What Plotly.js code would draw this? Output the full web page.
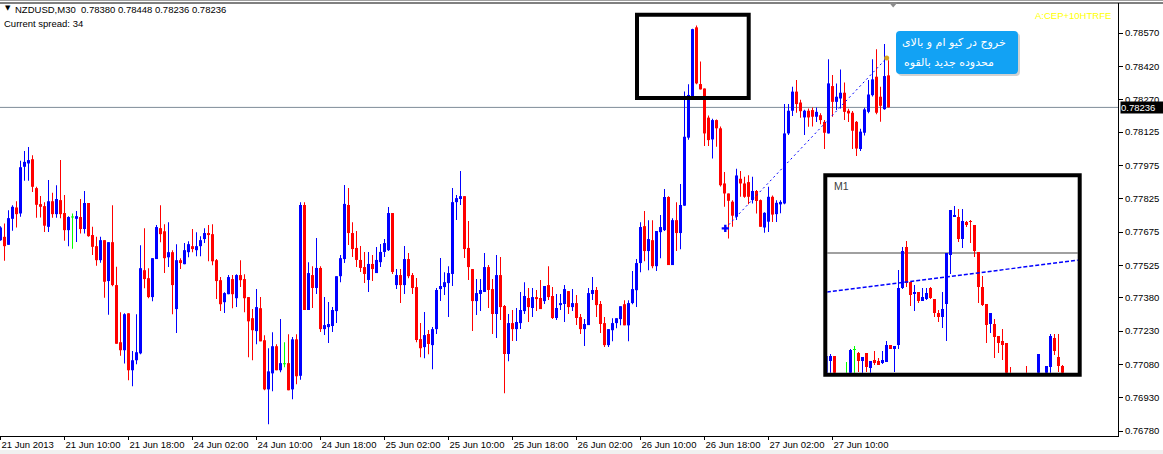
<!DOCTYPE html>
<html><head><meta charset="utf-8">
<script src="https://cdn.plot.ly/plotly-3.0.1.min.js"></script>
<style>html,body{margin:0;padding:0;background:#fff;overflow:hidden}</style>
</head><body><div id="chart" style="width:1163px;height:454px"></div>
<script>
// ---------- data (NZDUSD M30) ----------
const symbolName = "NZDUSD,M30";
const spreadLabel = "Current spread: 34";
const openP = [0.77639,0.77654,0.77618,0.77735,0.77786,0.77759,0.77969,0.77984,0.78003,0.77873,0.77801,0.77792,0.77699,0.77814,0.77756,0.77819,0.77761,0.77684,0.77741,0.77735,
0.77743,0.77689,0.77806,0.77662,0.77612,0.77549,0.77639,0.77455,0.77630,0.77437,0.77180,0.77144,0.77310,0.77054,0.77099,0.77130,0.77504,0.77468,0.77383,0.77554,
0.77693,0.77679,0.77562,0.77585,0.77329,0.77549,0.77531,0.77585,0.77612,0.77594,0.77612,0.77644,0.77671,0.77666,0.77549,0.77459,0.77360,0.77396,0.77464,0.77378,
0.77482,0.77464,0.77383,0.77288,0.77230,0.77333,0.77189,0.76968,0.77040,0.77162,0.77054,0.77081,0.77086,0.76968,0.77193,0.77029,0.77797,0.77325,0.77482,0.77424,
0.77514,0.77239,0.77248,0.77253,0.77320,0.77477,0.77554,0.77797,0.77671,0.77604,0.77550,0.77518,0.77460,0.77532,0.77491,0.77540,0.77586,0.77594,0.77761,0.77437,
0.77482,0.77437,0.77554,0.77482,0.77428,0.77194,0.77158,0.77217,0.77167,0.77239,0.77419,0.77428,0.77446,0.77487,0.77810,0.77824,0.77837,0.77604,0.77509,0.77365,
0.77397,0.77406,0.77518,0.77419,0.77307,0.77482,0.77343,0.77127,0.77266,0.77239,0.77266,0.77320,0.77379,0.77334,0.77383,0.77379,0.77365,0.77437,0.77388,0.77289,
0.77347,0.77352,0.77410,0.77338,0.77356,0.77293,0.77239,0.77257,0.77397,0.77415,0.77352,0.77266,0.77167,0.77234,0.77266,0.77284,0.77351,0.77256,0.77356,0.77414,
0.77536,0.77702,0.77590,0.77639,0.77522,0.77675,0.77684,0.77833,0.77527,0.77729,0.77671,0.77794,0.78100,0.78280,0.78596,0.78341,0.78321,0.78190,0.78092,0.78179,
0.78142,0.77894,0.77849,0.77812,0.77744,0.77915,0.77894,0.77900,0.77819,0.77860,0.77819,0.77696,0.77722,0.77834,0.77756,0.77800,0.77804,0.78119,0.78221,0.78307,
0.78258,0.78191,0.78221,0.78224,0.78194,0.78201,0.78171,0.78119,0.78332,0.78261,0.78276,0.78302,0.78221,0.78212,0.78171,0.78049,0.78122,0.78216,0.78291,0.78374,
0.78284,0.78228,0.78380];
const highP = [0.77702,0.77714,0.77774,0.77796,0.77814,0.77996,0.78040,0.78058,0.78021,0.77879,0.77838,0.77810,0.77909,0.77852,0.77886,0.77999,0.77842,0.77747,0.77759,0.77770,
0.77824,0.77860,0.77806,0.77699,0.77654,0.77654,0.77639,0.77630,0.77796,0.77519,0.77315,0.77310,0.77310,0.77140,0.77306,0.77616,0.77693,0.77513,0.77558,0.77707,
0.77796,0.77711,0.77720,0.77594,0.77621,0.77558,0.77626,0.77634,0.77689,0.77675,0.77657,0.77693,0.77707,0.77711,0.77554,0.77473,0.77405,0.77482,0.77482,0.77486,
0.77549,0.77486,0.77383,0.77329,0.77419,0.77383,0.77211,0.77153,0.77225,0.77171,0.77284,0.77180,0.77216,0.77203,0.77216,0.77810,0.77810,0.77540,0.77522,0.77649,
0.77522,0.77383,0.77361,0.77338,0.77477,0.77572,0.77887,0.77874,0.77720,0.77680,0.77613,0.77586,0.77586,0.77572,0.77608,0.77622,0.77644,0.77788,0.77761,0.77509,
0.77509,0.77613,0.77581,0.77491,0.77469,0.77266,0.77316,0.77235,0.77248,0.77424,0.77559,0.77495,0.77522,0.77874,0.77842,0.77950,0.77837,0.77725,0.77509,0.77464,
0.77464,0.77581,0.77527,0.77464,0.77572,0.77563,0.77347,0.77307,0.77325,0.77334,0.77406,0.77450,0.77424,0.77424,0.77415,0.77460,0.77433,0.77522,0.77428,0.77397,
0.77397,0.77437,0.77410,0.77419,0.77392,0.77307,0.77284,0.77424,0.77473,0.77428,0.77365,0.77293,0.77239,0.77288,0.77288,0.77342,0.77369,0.77369,0.77500,0.77554,
0.77720,0.77770,0.77729,0.77729,0.77680,0.77752,0.77869,0.77837,0.77738,0.77810,0.77891,0.78307,0.78340,0.78590,0.78604,0.78442,0.78321,0.78200,0.78185,0.78182,
0.78150,0.77946,0.77849,0.77819,0.77960,0.77950,0.77924,0.77931,0.77924,0.77865,0.77822,0.77765,0.77879,0.77840,0.77819,0.77819,0.78251,0.78251,0.78329,0.78359,
0.78270,0.78225,0.78231,0.78236,0.78236,0.78210,0.78179,0.78452,0.78382,0.78344,0.78407,0.78348,0.78230,0.78220,0.78175,0.78140,0.78235,0.78359,0.78452,0.78497,
0.78329,0.78521,0.78448];
const lowP = [0.77636,0.77546,0.77618,0.77681,0.77696,0.77744,0.77906,0.77906,0.77856,0.77740,0.77741,0.77676,0.77676,0.77740,0.77740,0.77737,0.77636,0.77612,0.77600,0.77631,
0.77669,0.77669,0.77654,0.77572,0.77524,0.77537,0.77380,0.77303,0.77432,0.77173,0.77119,0.77084,0.77009,0.76982,0.77081,0.77126,0.77423,0.77378,0.77364,0.77554,
0.77630,0.77491,0.77518,0.77306,0.77221,0.77509,0.77531,0.77562,0.77585,0.77567,0.77567,0.77626,0.77544,0.77526,0.77374,0.77320,0.77311,0.77396,0.77333,0.77338,
0.77428,0.77315,0.77112,0.77099,0.77171,0.77184,0.76964,0.76811,0.76959,0.77054,0.77045,0.77068,0.76964,0.76924,0.76991,0.77011,0.77325,0.77325,0.77334,0.77397,
0.77226,0.77212,0.77176,0.77226,0.77266,0.77450,0.77536,0.77617,0.77563,0.77518,0.77496,0.77446,0.77406,0.77455,0.77491,0.77518,0.77563,0.77590,0.77487,0.77419,
0.77356,0.77397,0.77468,0.77397,0.77180,0.77113,0.77108,0.77126,0.77059,0.77217,0.77365,0.77392,0.77293,0.77433,0.77730,0.77797,0.77559,0.77460,0.77230,0.77302,
0.77320,0.77406,0.77334,0.77217,0.77199,0.77280,0.76951,0.77095,0.77185,0.77185,0.77239,0.77307,0.77271,0.77293,0.77320,0.77329,0.77352,0.77370,0.77284,0.77280,
0.77325,0.77271,0.77307,0.77320,0.77257,0.77217,0.77163,0.77257,0.77370,0.77293,0.77221,0.77158,0.77158,0.77184,0.77243,0.77256,0.77256,0.77184,0.77351,0.77338,
0.77495,0.77544,0.77504,0.77513,0.77500,0.77558,0.77680,0.77527,0.77527,0.77590,0.77598,0.77794,0.78090,0.78270,0.78340,0.78317,0.78062,0.78062,0.78006,0.78059,
0.77880,0.77789,0.77646,0.77699,0.77730,0.77834,0.77830,0.77800,0.77804,0.77759,0.77699,0.77672,0.77676,0.77721,0.77721,0.77760,0.77800,0.78112,0.78197,0.78212,
0.78190,0.78112,0.78149,0.78150,0.78170,0.78160,0.78049,0.78119,0.78194,0.78224,0.78231,0.78179,0.78170,0.78049,0.78017,0.78040,0.78110,0.78210,0.78285,0.78205,
0.78171,0.78225,0.78236];
const closeP = [0.77696,0.77612,0.77738,0.77789,0.77756,0.77967,0.77991,0.77999,0.77879,0.77798,0.77789,0.77704,0.77814,0.77756,0.77824,0.77756,0.77684,0.77743,0.77741,0.77747,
0.77689,0.77806,0.77657,0.77609,0.77549,0.77639,0.77452,0.77630,0.77437,0.77173,0.77144,0.77306,0.77054,0.77099,0.77135,0.77513,0.77464,0.77383,0.77558,0.77698,
0.77666,0.77558,0.77585,0.77437,0.77549,0.77536,0.77594,0.77621,0.77599,0.77612,0.77639,0.77671,0.77662,0.77544,0.77455,0.77351,0.77401,0.77473,0.77396,0.77482,
0.77459,0.77378,0.77274,0.77234,0.77338,0.77184,0.76968,0.77049,0.77162,0.77054,0.77086,0.77081,0.76964,0.77193,0.77027,0.77797,0.77325,0.77491,0.77424,0.77514,
0.77239,0.77257,0.77262,0.77325,0.77477,0.77558,0.77802,0.77671,0.77599,0.77550,0.77514,0.77487,0.77532,0.77509,0.77550,0.77586,0.77626,0.77761,0.77496,0.77482,
0.77437,0.77554,0.77477,0.77424,0.77190,0.77153,0.77212,0.77172,0.77239,0.77415,0.77433,0.77450,0.77491,0.77810,0.77828,0.77837,0.77599,0.77518,0.77365,0.77401,
0.77415,0.77518,0.77415,0.77307,0.77482,0.77338,0.77127,0.77266,0.77239,0.77271,0.77325,0.77388,0.77338,0.77383,0.77374,0.77329,0.77433,0.77383,0.77289,0.77334,
0.77356,0.77419,0.77338,0.77356,0.77289,0.77239,0.77262,0.77401,0.77415,0.77347,0.77262,0.77167,0.77239,0.77266,0.77288,0.77342,0.77256,0.77356,0.77419,0.77536,
0.77698,0.77590,0.77644,0.77522,0.77680,0.77698,0.77833,0.77527,0.77729,0.77671,0.77797,0.78104,0.78292,0.78588,0.78344,0.78317,0.78119,0.78089,0.78179,0.78142,
0.77886,0.77849,0.77816,0.77749,0.77930,0.77894,0.77834,0.77834,0.77860,0.77815,0.77699,0.77762,0.77834,0.77754,0.77807,0.77811,0.78119,0.78221,0.78307,0.78251,
0.78219,0.78221,0.78191,0.78194,0.78216,0.78179,0.78122,0.78344,0.78261,0.78284,0.78302,0.78216,0.78209,0.78131,0.78051,0.78127,0.78227,0.78294,0.78362,0.78212,
0.78243,0.78377,0.78236];

const timeTickBar = [0,16,32,48,64,80,96,112,128,144,160,176,192,208];
const timeTickText = ["21 Jun 2013","21 Jun 10:00","21 Jun 18:00","24 Jun 02:00","24 Jun 10:00","24 Jun 18:00","25 Jun 02:00","25 Jun 10:00","25 Jun 18:00","26 Jun 02:00","26 Jun 10:00","26 Jun 18:00","27 Jun 02:00","27 Jun 10:00"];
const priceTickText = ["0.78570","0.78420","0.78270","0.78125","0.77975","0.77825","0.77675","0.77525","0.77380","0.77230","0.77080","0.76930","0.76780"];

// drawn objects on the M30 chart
const trendBar = [181.2, 221.55];
const trendPrice = [0.77692, 0.78458];
const peakBoxBar = [159.125, 187.05];
const peakBoxPrice = [0.78278, 0.78653];

// M1 inset chart
const m1Open = [0.78110,0.78128,0.78133,0.78105,0.78100,0.78112,0.78110,0.78139,0.78136,0.78128,0.78136,0.78121,0.78129,0.78128,0.78126,0.78127,0.78144,0.78140,0.78144,0.78201,
0.78242,0.78207,0.78195,0.78197,0.78188,0.78190,0.78201,0.78190,0.78176,0.78172,0.78185,0.78234,0.78272,0.78272,0.78250,0.78267,0.78268,0.78264,0.78237,0.78202,
0.78185,0.78165,0.78165,0.78153,0.78148,0.78146,0.78112,0.78100,0.78106,0.78100,0.78112,0.78104,0.78100,0.78105,0.78112,0.78105,0.78122,0.78151,0.78132,0.78123];
const m1High = [0.78135,0.78135,0.78133,0.78110,0.78112,0.78127,0.78140,0.78143,0.78137,0.78132,0.78136,0.78128,0.78138,0.78131,0.78138,0.78148,0.78144,0.78143,0.78219,0.78242,
0.78248,0.78207,0.78204,0.78197,0.78201,0.78201,0.78202,0.78190,0.78179,0.78197,0.78236,0.78279,0.78283,0.78280,0.78280,0.78268,0.78269,0.78264,0.78237,0.78213,
0.78185,0.78176,0.78170,0.78153,0.78160,0.78146,0.78122,0.78110,0.78110,0.78116,0.78123,0.78110,0.78112,0.78135,0.78114,0.78123,0.78155,0.78155,0.78155,0.78124];
const m1Low = [0.78100,0.78100,0.78100,0.78090,0.78095,0.78100,0.78105,0.78110,0.78117,0.78115,0.78117,0.78115,0.78124,0.78124,0.78125,0.78127,0.78140,0.78117,0.78140,0.78200,
0.78202,0.78183,0.78178,0.78186,0.78188,0.78189,0.78190,0.78172,0.78167,0.78161,0.78148,0.78215,0.78272,0.78247,0.78241,0.78262,0.78246,0.78232,0.78186,0.78183,
0.78146,0.78156,0.78131,0.78136,0.78129,0.78105,0.78100,0.78095,0.78095,0.78095,0.78098,0.78095,0.78095,0.78100,0.78100,0.78100,0.78110,0.78134,0.78117,0.78105];
const m1Close = [0.78133,0.78133,0.78110,0.78100,0.78108,0.78112,0.78139,0.78139,0.78128,0.78132,0.78122,0.78128,0.78126,0.78124,0.78129,0.78144,0.78140,0.78143,0.78201,0.78238,
0.78206,0.78194,0.78197,0.78188,0.78192,0.78196,0.78191,0.78176,0.78172,0.78180,0.78236,0.78279,0.78274,0.78250,0.78268,0.78264,0.78267,0.78238,0.78202,0.78184,
0.78164,0.78176,0.78152,0.78146,0.78144,0.78110,0.78105,0.78106,0.78100,0.78110,0.78104,0.78100,0.78108,0.78135,0.78105,0.78123,0.78153,0.78138,0.78123,0.78110];
const m1Level = 0.78236;
const m1TrendBar = [1.1, 64.25];
const m1TrendPrice = [0.78197, 0.78229];

// ---------- geometry / style ----------
const W = 1163, H = 454, MR = 45, MT = 3, MB = 18;
const PW = W - MR, PH = H - MT - MB;
const X = p => p / PW;                 // pixel -> paper x
const Y = p => (H - MB - p) / PH;      // pixel -> paper y
const UP = '#0000ff', DN = '#ff0000', DOJI = '#00ff00';
const FONT = 'Liberation Sans, Arial, sans-serif';

function candleTraces(o, h, l, c, xs, minBody, xa, ya) {
  const col = o.map((v, i) => c[i] > v ? UP : (c[i] < v ? DN : DOJI));
  const base = o.map((v, i) => Math.min(v, c[i]));
  const body = o.map((v, i) => Math.max(Math.abs(c[i] - v), minBody));
  return [
    {type: 'bar', x: xs, base: l, y: h.map((v, i) => v - l[i]), width: 0.25,
     marker: {color: col, line: {width: 0}}, xaxis: xa, yaxis: ya, hoverinfo: 'skip'},
    {type: 'bar', x: xs, base: base, y: body, width: 0.75,
     marker: {color: col, line: {width: 0}}, xaxis: xa, yaxis: ya, hoverinfo: 'skip'}
  ];
}

const idx = openP.map((_, i) => i);
const m1Idx = m1Open.map((_, i) => i + 1);
const yLo = 0.767583, yHi = 0.787055;
const pxPerPrice = PH / (yHi - yLo);

const traces = [
  ...candleTraces(openP, highP, lowP, closeP, idx, 1 / pxPerPrice, 'x', 'y'),
  {type: 'scatter', mode: 'lines', x: trendBar, y: trendPrice, xaxis: 'x', yaxis: 'y',
   line: {color: '#0000ff', width: 1, dash: '2px,3px'}, hoverinfo: 'skip'},
  {type: 'scatter', mode: 'markers', x: [trendBar[0]], y: [trendPrice[0]],
   marker: {symbol: 'cross', size: 6, color: '#0000ff'}, hoverinfo: 'skip'},
  {type: 'scatter', mode: 'markers', x: [trendBar[1]], y: [trendPrice[1]],
   marker: {symbol: 'circle', size: 5, color: '#d9a520'}, hoverinfo: 'skip'},
  ...candleTraces(m1Open, m1High, m1Low, m1Close, m1Idx, 0.00001, 'x2', 'y2'),
  {type: 'scatter', mode: 'lines', x: m1TrendBar, y: m1TrendPrice, xaxis: 'x2', yaxis: 'y2',
   line: {color: '#0000ff', width: 1.5, dash: '4px,2px'}, hoverinfo: 'skip'}
];

const n = closeP.length;
const lastClose = closeP[n - 1];

function rrect(x0, y0, x1, y1, r) {
  return `M${X(x0 + r)},${Y(y0)} L${X(x1 - r)},${Y(y0)} Q${X(x1)},${Y(y0)} ${X(x1)},${Y(y0 + r)} ` +
         `L${X(x1)},${Y(y1 - r)} Q${X(x1)},${Y(y1)} ${X(x1 - r)},${Y(y1)} L${X(x0 + r)},${Y(y1)} ` +
         `Q${X(x0)},${Y(y1)} ${X(x0)},${Y(y1 - r)} L${X(x0)},${Y(y0 + r)} Q${X(x0)},${Y(y0)} ${X(x0 + r)},${Y(y0)} Z`;
}

const insetDomX = [827.3 / PW, 1077.7 / PW];
const insetDomY = [Y(372.7), Y(177.3)];
const insetX0 = (827.3 - 822.5) / 4;

const shapes = [
  // window frame lines
  {type: 'line', xref: 'paper', yref: 'paper', x0: 0, x1: W / PW, y0: Y(0.5), y1: Y(0.5), line: {color: '#a0a0a0', width: 1}},
  {type: 'line', xref: 'paper', yref: 'paper', x0: 0, x1: W / PW, y0: 1, y1: 1, line: {color: '#000', width: 1}},
  {type: 'rect', xref: 'paper', yref: 'paper', x0: 0, x1: W / PW, y0: Y(450), y1: Y(454), fillcolor: '#f0f0f0', line: {width: 0}},
  // bid line
  {type: 'line', xref: 'paper', yref: 'y', x0: 0, x1: 1, y0: lastClose, y1: lastClose, line: {color: '#7f8c99', width: 1}, layer: 'below'},
  // peak box
  {type: 'rect', xref: 'x', yref: 'y', x0: peakBoxBar[0], x1: peakBoxBar[1], y0: peakBoxPrice[0], y1: peakBoxPrice[1],
   line: {color: '#000', width: 4}, fillcolor: 'rgba(0,0,0,0)', layer: 'above'},
  // inset frame
  {type: 'rect', xref: 'paper', yref: 'paper', x0: X(825.3), x1: X(1079.7), y0: Y(374.7), y1: Y(175.3),
   line: {color: '#000', width: 4}, fillcolor: 'rgba(0,0,0,0)', layer: 'above'},
  // inset level line
  {type: 'line', xref: 'paper', yref: 'y2', x0: insetDomX[0], x1: insetDomX[1], y0: m1Level, y1: m1Level,
   line: {color: '#808080', width: 1.5}, layer: 'below'},
  // chart-shift triangle
  {type: 'path', xref: 'paper', yref: 'paper', path: `M${X(889)},${Y(2.5)} L${X(897.5)},${Y(2.5)} L${X(893.2)},${Y(7.5)} Z`,
   fillcolor: '#8c8c8c', line: {width: 0}},
  // note box shadow + box
  {type: 'path', xref: 'paper', yref: 'paper', path: rrect(898, 33, 1020, 76, 4), fillcolor: 'rgba(0,0,0,0.18)', line: {width: 0}, layer: 'above'},
  {type: 'path', xref: 'paper', yref: 'paper', path: rrect(896, 31, 1018, 74, 4), fillcolor: '#12a2f4', line: {width: 0}, layer: 'above'}
];

const annotations = [
  {xref: 'paper', yref: 'paper', x: X(3), y: Y(8.5), xanchor: 'left', yanchor: 'middle', showarrow: false,
   text: '▼', font: {family: 'DejaVu Sans', size: 7, color: '#000'}},
  {xref: 'paper', yref: 'paper', x: X(13), y: Y(9), xanchor: 'left', yanchor: 'middle', showarrow: false,
   text: symbolName + '\u00a0\u00a0' + [openP[n-1], highP[n-1], lowP[n-1], closeP[n-1]].map(v => v.toFixed(5)).join(' '),
   font: {family: FONT, size: 9.5, color: '#000'}},
  {xref: 'paper', yref: 'paper', x: X(2), y: Y(23), xanchor: 'left', yanchor: 'middle', showarrow: false,
   text: spreadLabel, font: {family: FONT, size: 9.5, color: '#000'}},
  {xref: 'paper', yref: 'paper', x: X(1113), y: Y(15.5), xanchor: 'right', yanchor: 'middle', showarrow: false,
   text: 'A:CEP+10HTRFE', font: {family: FONT, size: 9.5, color: '#ffff00'}},
  {xref: 'paper', yref: 'y', x: X(1120), y: lastClose, xanchor: 'left', yanchor: 'middle', showarrow: false,
   text: lastClose.toFixed(5), bgcolor: '#000', borderpad: 0, width: 44, align: 'left',
   font: {family: FONT, size: 9.5, color: '#fff'}},
  {xref: 'paper', yref: 'paper', x: X(832), y: Y(185.5), xanchor: 'left', yanchor: 'middle', showarrow: false,
   text: 'M1', font: {family: FONT, size: 10.5, color: '#404040'}},
  {xref: 'paper', yref: 'paper', x: X(900), y: Y(42.7), xanchor: 'left', yanchor: 'middle', showarrow: false,
   text: 'خروج در کیو ام و بالای', font: {family: 'DejaVu Sans', size: 11, color: '#fff'}},
  {xref: 'paper', yref: 'paper', x: X(902), y: Y(62.7), xanchor: 'left', yanchor: 'middle', showarrow: false,
   text: 'محدوده جدید بالقوه', font: {family: 'DejaVu Sans', size: 11, color: '#fff'}}
];

const layout = {
  width: W, height: H,
  margin: {l: 0, r: MR, t: MT, b: MB, pad: 0},
  paper_bgcolor: '#fff', plot_bgcolor: 'rgba(0,0,0,0)',
  showlegend: false, barmode: 'overlay',
  font: {family: FONT, size: 9.5, color: '#000'},
  xaxis: {range: [-0.125, -0.125 + PW / 4], tickmode: 'array', tickvals: timeTickBar, ticktext: timeTickText,
    ticks: 'outside', ticklen: 3, tickcolor: '#000', tickwidth: 1, showline: true, linecolor: '#000', linewidth: 1,
    showgrid: false, zeroline: false, ticklabelposition: 'outside right', tickfont: {family: FONT, size: 9.5, color: '#000'},
    fixedrange: true},
  yaxis: {range: [yLo, yHi], side: 'right', tickmode: 'array', tickvals: priceTickText.map(Number), ticktext: priceTickText,
    ticks: 'outside', ticklen: 4, tickcolor: '#000', tickwidth: 1, showline: true, linecolor: '#000', linewidth: 1,
    showgrid: false, zeroline: false, tickfont: {family: FONT, size: 9.5, color: '#000'}, fixedrange: true},
  xaxis2: {domain: insetDomX, anchor: 'y2', range: [insetX0, insetX0 + (1077.7 - 827.3) / 4], visible: false, fixedrange: true},
  yaxis2: {domain: insetDomY, anchor: 'x2', range: [0.781163, 0.783117], visible: false, fixedrange: true},
  shapes: shapes,
  annotations: annotations
};

Plotly.newPlot('chart', traces, layout, {displayModeBar: false, staticPlot: true});
</script>
</body></html>
